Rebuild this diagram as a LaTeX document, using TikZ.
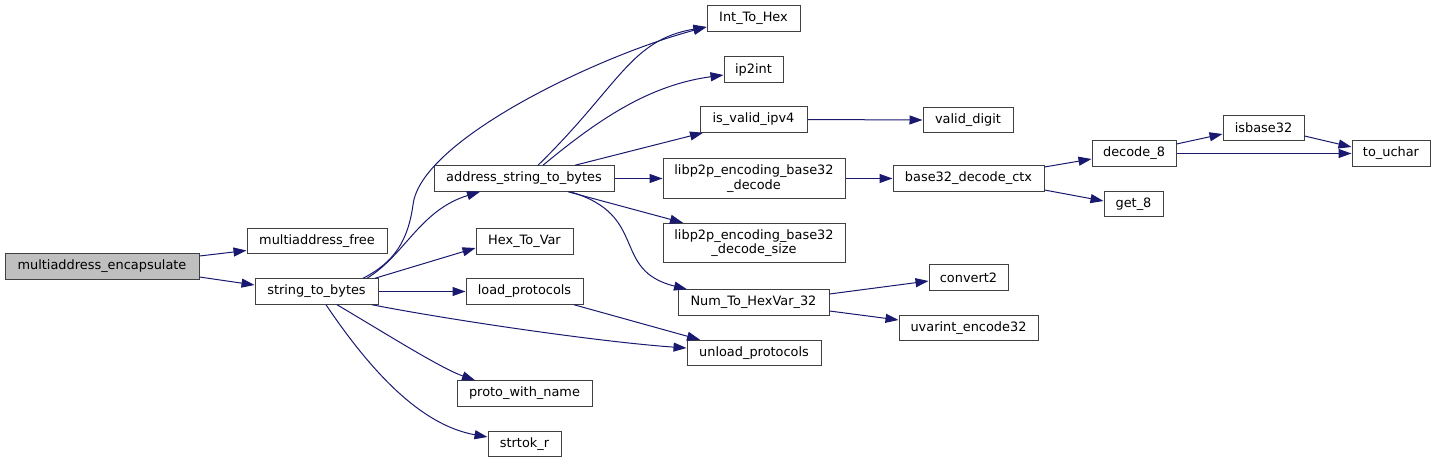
\documentclass[tikz,border=0pt]{standalone}
\usepackage{fontspec}
\setmainfont{DejaVu Sans}
\usepackage{tikz}
\usetikzlibrary{arrows.meta}
\definecolor{edgeblue}{HTML}{191970}
\definecolor{boxgray}{HTML}{404040}
\definecolor{startgray}{HTML}{BFBFBF}
\tikzset{
  fnbox/.style={draw=boxgray,fill=white,line width=1pt,minimum height=25.5,
    inner sep=0pt,align=center,font=\fontsize{12.9}{14.5}\selectfont},
  fnbox2/.style={fnbox,minimum height=39.5},
  startbox/.style={fnbox,fill=startgray},
  call/.style={-{Triangle[length=13pt,width=9pt]},draw=edgeblue,
    line width=1pt},
}

\begin{document}
\begin{tikzpicture}[x=1pt,y=-1pt]
  \useasboundingbox (0,0) rectangle (1436,463);
  % columns of the call graph
  \node[startbox,minimum width=194] (enc) at (102,266.5) {multiaddress\_encapsulate};
  \node[fnbox,minimum width=140] (mafree) at (317,241) {multiaddress\_free};
  \node[fnbox,minimum width=123] (s2b) at (316.5,291.5) {string\_to\_bytes};
  \node[fnbox,minimum width=180] (asb) at (524,178.5) {address\_string\_to\_bytes};
  \node[fnbox,minimum width=97] (hexvar) at (524.5,241.5) {Hex\_To\_Var};
  \node[fnbox,minimum width=117] (loadp) at (524.5,291.5) {load\_protocols};
  \node[fnbox,minimum width=135] (proto) at (524.5,393.5) {proto\_with\_name};
  \node[fnbox,minimum width=73] (strtok) at (524.5,444) {strtok\_r};
  \node[fnbox,minimum width=93] (inthex) at (753.5,18.5) {Int\_To\_Hex};
  \node[fnbox,minimum width=59] (iptoint) at (753.5,69.5) {ip2int};
  \node[fnbox,minimum width=107] (ipv4) at (753.5,119.5) {is\_valid\_ipv4};
  \node[fnbox2,minimum width=182] (b32dec) at (754,178.5) {libp2p\_encoding\_base32\\\_decode};
  \node[fnbox2,minimum width=182] (b32size) at (754,243) {libp2p\_encoding\_base32\\\_decode\_size};
  \node[fnbox,minimum width=151] (numhex) at (753.5,302.5) {Num\_To\_HexVar\_32};
  \node[fnbox,minimum width=134] (unloadp) at (754,353) {unload\_protocols};
  \node[fnbox,minimum width=90] (vdigit) at (968,120) {valid\_digit};
  \node[fnbox,minimum width=151] (b32ctx) at (968.5,178.5) {base32\_decode\_ctx};
  \node[fnbox,minimum width=79] (conv2) at (968.5,277.5) {convert2};
  \node[fnbox,minimum width=139] (uvarint) at (968.5,328) {uvarint\_encode32};
  \node[fnbox,minimum width=84] (dec8) at (1134,153.5) {decode\_8};
  \node[fnbox,minimum width=59] (get8) at (1133.5,204) {get\_8};
  \node[fnbox,minimum width=81] (isb32) at (1263.5,128) {isbase32};
  \node[fnbox,minimum width=78] (uchar) at (1391,153.5) {to\_uchar};

  % calls
  \draw[call] ([yshift=10.5]enc.east) -- ([yshift=-9.5]mafree.west);
  \draw[call] ([yshift=-10.5]enc.east) -- ([yshift=6.5]s2b.west);
  \draw[call] ([xshift=46.5]s2b.north) .. controls (395,262) and (408,240) .. (413,205)
    .. controls (420,140) and (600,55) .. ([yshift=-8.5]inthex.west);
  \draw[call] ([xshift=50.5]s2b.north) .. controls (405,255) and (420,210) .. ([xshift=-44]asb.south);
  \draw[call] ([xshift=58.5]s2b.north) -- ([yshift=-6.5]hexvar.west);
  \draw[call] (s2b.east) -- (loadp.west);
  \draw[call] ([xshift=55.5]s2b.south) .. controls (450,320) and (600,342) .. ([yshift=5]unloadp.west);
  \draw[call] ([xshift=20.5]s2b.south) .. controls (380,330) and (440,368) .. ([xshift=-49.5]proto.north);
  \draw[call] ([xshift=9.5]s2b.south) .. controls (370,370) and (420,425) .. ([yshift=7]strtok.west);
  \draw[call] ([xshift=14]asb.north) .. controls (620,85) and (630,40) .. ([yshift=-8.5]inthex.west);
  \draw[call] ([xshift=19]asb.north) .. controls (600,118) and (650,85) .. ([yshift=-5.5]iptoint.west);
  \draw[call] ([xshift=51]asb.north) -- ([xshift=-50.5]ipv4.south);
  \draw[call] (asb.east) -- (b32dec.west);
  \draw[call] ([xshift=44]asb.south) -- ([xshift=-71]b32size.north);
  \draw[call] ([xshift=46]asb.south) .. controls (650,215) and (610,270) .. ([xshift=-66.5]numhex.north);
  \draw[call] ([xshift=49.5]loadp.south) -- ([xshift=-54]unloadp.north);
  \draw[call] (ipv4.east) -- (vdigit.west);
  \draw[call] (b32dec.east) -- (b32ctx.west);
  \draw[call] ([yshift=11.5]b32ctx.east) -- ([yshift=-5.5]dec8.west);
  \draw[call] ([yshift=-11.5]b32ctx.east) -- ([yshift=3]get8.west);
  \draw[call] ([yshift=9.5]dec8.east) -- ([yshift=-6]isb32.west);
  \draw[call] (dec8.east) -- (uchar.west);
  \draw[call] ([yshift=-8]isb32.east) -- ([yshift=6.5]uchar.west);
  \draw[call] ([yshift=8.5]numhex.east) -- ([yshift=-3.5]conv2.west);
  \draw[call] ([yshift=-8.5]numhex.east) -- ([yshift=8]uvarint.west);
\end{tikzpicture}
\end{document}
